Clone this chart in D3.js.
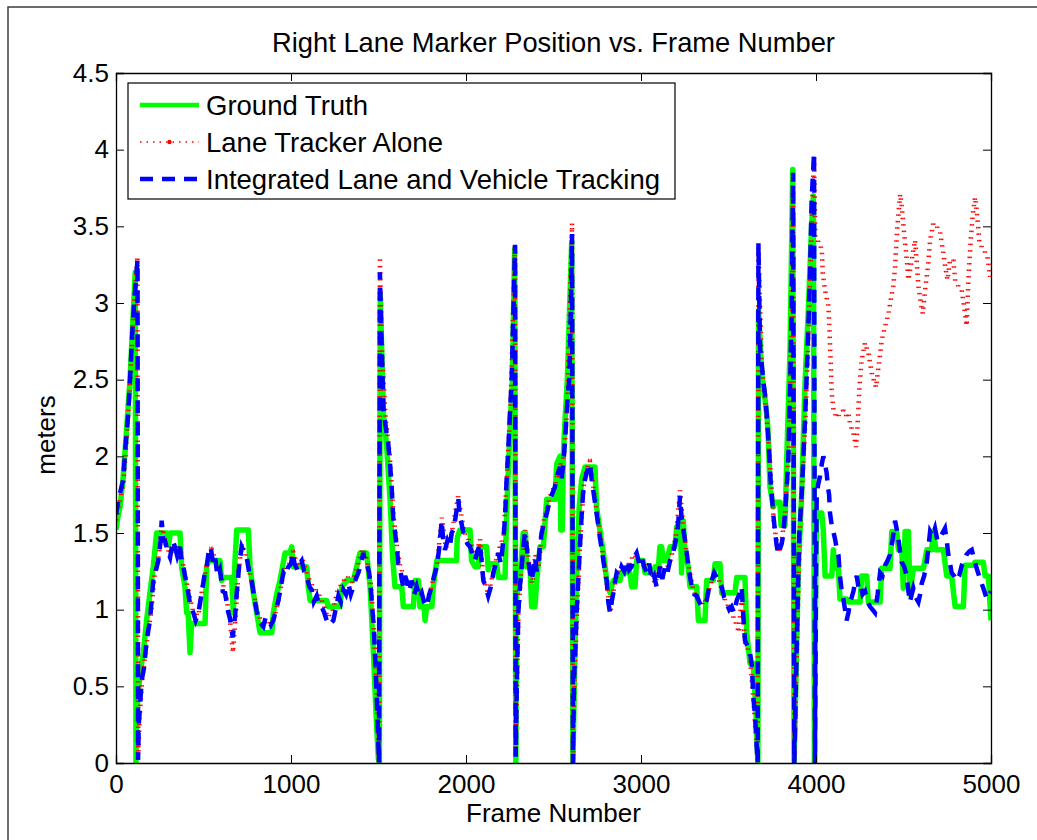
<!DOCTYPE html>
<html lang="en">

<head>
    <meta charset="UTF-8">
    <title>Right Lane Marker Position vs. Frame Number</title>
    <script src="https://d3js.org/d3.v7.min.js"></script>
    <style>
        body { margin: 0; background: #fff; }
        svg text { font-family: "Liberation Sans", Arial, sans-serif; fill: #000; }
    </style>
</head>

<body>
    <svg width="1037" height="840"></svg>

    <script>
        // 数据: [frame, meters]
        const groundTruth = [
            [0,1.52],[10,1.60],[23,1.67],[40,1.85],[51,2.02],[65,2.25],[80,2.50],[95,2.85],[110,3.20],[114,0.0],
            [118,0.32],[137,0.58],[156,0.72],[175,0.93],[194,1.11],[213,1.28],[232,1.50],[290,1.50],[300,1.42],[310,1.50],
            [366,1.50],[375,1.28],[394,1.15],[404,0.98],[412,0.98],[423,0.72],[432,0.91],[509,0.91],[518,1.28],[530,1.32],
            [594,1.32],[604,1.19],[613,1.21],[661,1.21],[670,0.98],[680,1.32],[690,1.52],[756,1.52],[766,1.28],[785,1.11],
            [804,0.98],[823,0.85],[890,0.85],[899,0.98],[918,1.10],[937,1.19],[966,1.37],[994,1.37],[1004,1.41],[1013,1.28],
            [1090,1.28],[1099,1.15],[1109,1.06],[1204,1.06],[1213,1.02],[1280,1.02],[1290,1.15],[1318,1.19],[1356,1.19],[1375,1.28],
            [1394,1.37],[1432,1.37],[1452,1.15],[1471,0.72],[1486,0.32],[1499,0.03],[1505,0.0],[1510,3.06],[1528,2.28],[1547,2.06],
            [1566,1.72],[1581,1.34],[1594,1.15],[1633,1.15],[1642,1.02],[1699,1.02],[1709,1.19],[1728,1.19],[1737,1.02],[1760,1.02],
            [1766,0.93],[1775,1.02],[1805,1.02],[1813,1.15],[1833,1.32],[1946,1.32],[1950,1.47],[1965,1.52],[2023,1.52],[2032,1.32],
            [2051,1.28],[2070,1.28],[2080,1.41],[2118,1.41],[2127,1.26],[2137,1.30],[2175,1.30],[2185,1.21],[2223,1.21],[2232,1.63],
            [2251,2.17],[2265,2.50],[2278,3.35],[2285,0.0],[2289,1.09],[2308,1.19],[2327,1.50],[2340,1.50],[2346,1.28],[2366,1.28],
            [2375,1.02],[2394,1.02],[2404,1.19],[2423,1.41],[2442,1.41],[2461,1.72],[2508,1.72],[2518,1.95],[2537,2.0],[2542,1.52],
            [2550,1.52],[2556,2.0],[2566,2.24],[2579,2.5],[2604,3.4],[2611,0.0],[2623,0.76],[2632,1.19],[2647,1.67],[2661,1.85],
            [2680,1.93],[2737,1.93],[2746,1.67],[2765,1.52],[2785,1.37],[2804,1.19],[2823,1.11],[2842,1.19],[2880,1.19],[2889,1.24],
            [2937,1.24],[2946,1.15],[2966,1.15],[2975,1.32],[3013,1.32],[3023,1.24],[3070,1.24],[3080,1.28],[3100,1.28],[3108,1.41],
            [3118,1.41],[3127,1.32],[3147,1.32],[3166,1.41],[3194,1.41],[3204,1.54],[3225,1.58],[3232,1.24],[3236,1.58],[3242,1.58],
            [3251,1.37],[3270,1.28],[3280,1.15],[3318,1.15],[3328,0.93],[3366,0.93],[3375,1.19],[3413,1.19],[3423,1.30],[3451,1.30],
            [3461,1.11],[3537,1.11],[3547,1.21],[3594,1.21],[3604,0.85],[3623,0.65],[3642,0.65],[3657,0.32],[3668,0.0],[3672,2.95],
            [3690,2.54],[3709,2.37],[3722,2.23],[3728,2.11],[3737,1.80],[3756,1.67],[3766,1.70],[3794,1.70],[3800,1.55],[3823,1.55],
            [3833,1.99],[3852,2.71],[3867,3.87],[3875,0.0],[3899,1.27],[3918,1.75],[3937,2.47],[3956,2.95],[3975,3.5],[3985,3.7],
            [3991,0.0],[4000,1.4],[4004,1.63],[4033,1.63],[4042,1.51],[4052,1.22],[4090,1.22],[4099,1.39],[4109,1.27],[4128,1.27],
            [4137,1.07],[4175,1.07],[4185,1.05],[4252,1.05],[4261,1.22],[4290,1.22],[4299,1.05],[4366,1.05],[4375,1.27],[4423,1.27],
            [4433,1.51],[4461,1.51],[4471,1.39],[4490,1.39],[4499,1.14],[4509,1.51],[4528,1.51],[4537,1.10],[4556,1.27],[4614,1.27],
            [4633,1.39],[4660,1.39],[4671,1.51],[4685,1.39],[4728,1.39],[4747,1.22],[4775,1.22],[4795,1.02],[4842,1.02],[4852,1.29],
            [4899,1.29],[4909,1.31],[4956,1.31],[4966,1.22],[4985,1.22],[5000,0.93]
        ];

        const laneTrackerAlone = [
            [0,1.58],[23,1.72],[42,1.82],[60,2.10],[80,2.48],[100,2.95],[122,3.30],[127,0.05],[135,0.30],[150,0.55],
            [175,0.78],[200,0.98],[220,1.22],[245,1.36],[262,1.55],[285,1.42],[310,1.36],[340,1.43],[370,1.38],[390,1.25],
            [415,1.12],[440,0.99],[470,0.96],[492,1.13],[520,1.30],[545,1.40],[570,1.32],[600,1.22],[630,1.08],[650,0.95],
            [668,0.72],[685,0.98],[700,1.25],[720,1.43],[750,1.32],[780,1.15],[810,0.97],[845,0.90],[880,0.92],[905,0.95],
            [935,1.10],[960,1.26],[990,1.30],[1012,1.38],[1040,1.28],[1065,1.33],[1095,1.22],[1125,1.15],[1150,1.12],[1180,1.05],
            [1210,0.95],[1240,1.00],[1265,1.12],[1290,1.17],[1320,1.22],[1350,1.18],[1380,1.28],[1410,1.40],[1435,1.32],[1458,1.15],
            [1475,0.85],[1492,0.40],[1503,0.0],[1508,3.30],[1520,2.70],[1540,2.25],[1565,2.00],[1585,1.62],[1605,1.42],[1625,1.27],
            [1650,1.22],[1680,1.15],[1710,1.18],[1740,1.10],[1775,1.04],[1805,1.16],[1835,1.30],[1862,1.60],[1885,1.40],[1915,1.48],
            [1955,1.74],[1990,1.50],[2025,1.44],[2055,1.34],[2080,1.46],[2100,1.20],[2128,1.10],[2160,1.27],[2190,1.40],[2215,1.48],
            [2235,1.90],[2255,2.35],[2280,3.38],[2284,0.05],[2300,1.00],[2320,1.30],[2338,1.52],[2360,1.30],[2378,1.17],[2396,1.36],
            [2415,1.28],[2440,1.56],[2480,1.74],[2510,1.82],[2540,1.95],[2560,2.00],[2580,2.35],[2606,3.52],[2611,0.02],[2620,0.55],
            [2635,1.00],[2652,1.43],[2672,1.80],[2690,1.92],[2708,1.97],[2728,1.80],[2750,1.62],[2770,1.45],[2790,1.30],[2810,1.12],
            [2825,0.98],[2845,1.14],[2870,1.25],[2900,1.27],[2930,1.30],[2960,1.36],[2990,1.32],[3020,1.30],[3050,1.27],[3080,1.17],
            [3110,1.28],[3140,1.25],[3170,1.33],[3200,1.48],[3223,1.78],[3245,1.50],[3270,1.30],[3300,1.12],[3330,1.06],[3360,1.03],
            [3390,1.14],[3420,1.24],[3450,1.18],[3480,1.06],[3510,1.00],[3540,0.92],[3560,0.85],[3575,1.10],[3595,0.78],[3620,0.72],
            [3640,0.45],[3660,0.12],[3667,0.02],[3671,3.36],[3690,2.60],[3715,2.30],[3735,2.00],[3760,1.55],[3785,1.38],[3805,1.45],
            [3825,1.65],[3845,2.05],[3862,2.95],[3869,3.82],[3876,0.02],[3892,0.80],[3907,1.50],[3920,1.78],[3940,2.25],[3960,2.90],
            [3978,3.65],[3989,3.95],[3996,3.42],[4014,3.40],[4033,3.35],[4039,3.19],[4052,3.08],[4071,2.98],[4077,2.82],[4084,2.61],
            [4090,2.41],[4100,2.30],[4119,2.25],[4138,2.28],[4157,2.30],[4175,2.26],[4185,2.28],[4195,2.21],[4214,2.15],[4229,2.06],
            [4237,2.19],[4248,2.45],[4261,2.63],[4280,2.74],[4300,2.67],[4319,2.54],[4343,2.45],[4357,2.58],[4376,2.76],[4395,2.85],
            [4414,2.93],[4427,3.02],[4442,3.11],[4452,3.24],[4465,3.50],[4481,3.71],[4490,3.63],[4503,3.46],[4519,3.28],[4528,3.15],
            [4547,3.28],[4566,3.41],[4576,3.26],[4585,3.11],[4599,3.00],[4610,2.93],[4623,3.08],[4642,3.26],[4652,3.41],[4671,3.52],
            [4690,3.50],[4709,3.46],[4724,3.35],[4738,3.24],[4751,3.15],[4766,3.28],[4785,3.28],[4795,3.15],[4814,3.11],[4833,3.08],
            [4846,2.98],[4861,2.85],[4871,3.15],[4884,3.41],[4896,3.58],[4909,3.69],[4922,3.56],[4934,3.39],[4957,3.35],[4980,3.30],
            [4995,3.17],[5000,3.20]
        ];

        const integrated = [
            [0,1.62],[12,1.70],[23,1.76],[42,1.85],[51,2.02],[70,2.28],[80,2.5],[95,2.85],[110,3.1],[123,3.28],
            [126,0.02],[130,0.25],[147,0.54],[160,0.62],[175,0.80],[194,0.93],[213,1.19],[242,1.32],[255,1.45],[261,1.58],
            [270,1.45],[280,1.45],[295,1.38],[309,1.34],[325,1.45],[337,1.41],[350,1.35],[366,1.41],[375,1.30],[385,1.28],
            [400,1.18],[413,1.11],[425,1.02],[442,0.98],[455,0.93],[471,0.98],[490,1.11],[505,1.22],[518,1.28],[530,1.38],
            [541,1.41],[555,1.30],[566,1.34],[580,1.22],[594,1.26],[610,1.12],[623,1.11],[642,0.98],[650,0.95],[667,0.82],
            [680,0.95],[690,1.11],[705,1.30],[718,1.41],[730,1.38],[747,1.34],[760,1.25],[775,1.19],[790,1.08],[804,0.99],
            [820,0.92],[842,0.89],[855,0.95],[871,0.93],[885,0.90],[899,0.93],[915,1.00],[928,1.06],[942,1.15],[956,1.24],
            [970,1.22],[985,1.28],[1000,1.30],[1010,1.37],[1020,1.30],[1036,1.26],[1048,1.30],[1061,1.32],[1075,1.25],[1090,1.22],
            [1105,1.15],[1118,1.13],[1130,1.05],[1147,1.09],[1160,1.03],[1175,1.02],[1190,0.98],[1204,0.93],[1220,0.90],[1242,0.93],
            [1255,1.00],[1271,1.09],[1285,1.05],[1299,1.13],[1314,1.10],[1328,1.17],[1342,1.10],[1356,1.15],[1370,1.20],[1385,1.24],
            [1400,1.30],[1413,1.37],[1425,1.30],[1432,1.30],[1445,1.25],[1455,1.15],[1465,1.00],[1474,0.87],[1482,0.65],[1490,0.43],
            [1497,0.2],[1503,0.0],[1508,3.20],[1515,2.85],[1528,2.32],[1540,2.20],[1556,2.08],[1566,1.95],[1575,1.80],[1585,1.58],
            [1595,1.50],[1604,1.41],[1613,1.30],[1623,1.28],[1632,1.20],[1642,1.15],[1652,1.22],[1661,1.19],[1675,1.12],[1690,1.19],
            [1704,1.10],[1718,1.15],[1732,1.08],[1747,1.11],[1760,1.05],[1775,1.02],[1790,1.10],[1804,1.15],[1818,1.22],[1833,1.28],
            [1847,1.40],[1861,1.58],[1870,1.45],[1880,1.39],[1894,1.45],[1908,1.41],[1918,1.50],[1927,1.52],[1940,1.60],[1956,1.72],
            [1965,1.60],[1975,1.56],[1985,1.50],[1994,1.47],[2008,1.43],[2023,1.41],[2037,1.36],[2051,1.32],[2065,1.38],[2080,1.43],
            [2090,1.30],[2099,1.19],[2113,1.15],[2127,1.09],[2142,1.15],[2156,1.24],[2170,1.30],[2185,1.37],[2199,1.30],[2213,1.45],
            [2223,1.60],[2232,1.85],[2242,2.05],[2251,2.28],[2261,2.50],[2270,2.9],[2280,3.38],[2284,0.04],[2290,0.5],[2299,0.98],
            [2308,1.15],[2318,1.28],[2327,1.40],[2337,1.50],[2346,1.42],[2356,1.32],[2365,1.25],[2375,1.19],[2385,1.26],[2394,1.34],
            [2404,1.25],[2413,1.30],[2423,1.42],[2432,1.50],[2442,1.55],[2451,1.58],[2466,1.65],[2480,1.72],[2494,1.76],[2508,1.80],
            [2522,1.88],[2537,1.93],[2546,1.85],[2556,1.95],[2566,2.1],[2575,2.28],[2582,2.4],[2590,2.50],[2598,2.9],[2606,3.45],
            [2611,0.0],[2617,0.54],[2625,0.75],[2632,0.98],[2642,1.2],[2651,1.41],[2660,1.6],[2670,1.78],[2680,1.85],[2689,1.89],
            [2699,1.93],[2708,1.95],[2718,1.85],[2727,1.78],[2737,1.70],[2746,1.63],[2756,1.55],[2765,1.47],[2775,1.40],[2785,1.32],
            [2794,1.25],[2804,1.19],[2813,1.05],[2823,0.98],[2832,1.05],[2842,1.11],[2851,1.18],[2861,1.24],[2875,1.22],[2889,1.28],
            [2904,1.25],[2918,1.32],[2932,1.26],[2946,1.28],[2960,1.34],[2975,1.37],[2990,1.30],[3004,1.34],[3018,1.28],[3032,1.24],
            [3047,1.30],[3061,1.19],[3075,1.22],[3089,1.15],[3100,1.22],[3108,1.28],[3122,1.20],[3137,1.28],[3151,1.24],[3166,1.32],
            [3180,1.35],[3194,1.43],[3208,1.50],[3218,1.65],[3223,1.74],[3232,1.60],[3242,1.52],[3252,1.45],[3261,1.37],[3275,1.25],
            [3290,1.15],[3304,1.10],[3318,1.09],[3333,1.05],[3347,1.02],[3361,1.04],[3375,1.06],[3390,1.15],[3404,1.19],[3418,1.24],
            [3432,1.21],[3447,1.18],[3461,1.15],[3475,1.08],[3490,1.04],[3504,1.00],[3518,1.02],[3532,0.98],[3547,1.06],[3561,1.10],
            [3575,1.15],[3585,0.95],[3594,0.80],[3610,0.76],[3623,0.72],[3633,0.64],[3642,0.43],[3652,0.30],[3661,0.11],[3667,0.0],
            [3671,3.39],[3680,2.71],[3690,2.60],[3699,2.49],[3709,2.40],[3718,2.28],[3726,2.15],[3734,1.99],[3740,1.85],[3747,1.75],
            [3756,1.62],[3766,1.51],[3775,1.42],[3785,1.36],[3795,1.40],[3804,1.43],[3814,1.50],[3823,1.63],[3833,1.80],[3842,1.99],
            [3852,2.45],[3861,2.95],[3869,3.85],[3876,0.0],[3890,0.78],[3898,1.2],[3905,1.51],[3918,1.75],[3928,2.0],[3937,2.23],
            [3946,2.5],[3956,2.83],[3966,3.2],[3975,3.67],[3989,3.98],[3994,0.0],[4000,1.2],[4004,1.75],[4013,1.82],[4023,1.87],
            [4033,1.95],[4042,2.0],[4052,1.95],[4061,1.89],[4068,1.80],[4075,1.75],[4080,1.63],[4090,1.55],[4099,1.51],[4109,1.46],
            [4118,1.40],[4128,1.36],[4137,1.22],[4147,1.12],[4156,1.07],[4166,1.00],[4175,0.93],[4185,0.98],[4195,1.05],[4204,1.08],
            [4214,1.12],[4223,1.18],[4233,1.22],[4242,1.15],[4252,1.17],[4266,1.10],[4280,1.12],[4295,1.05],[4309,1.02],[4323,1.00],
            [4337,0.98],[4352,1.10],[4366,1.24],[4380,1.22],[4395,1.29],[4409,1.32],[4423,1.36],[4437,1.45],[4452,1.58],[4462,1.52],
            [4471,1.46],[4480,1.38],[4490,1.31],[4504,1.28],[4518,1.22],[4528,1.12],[4537,1.05],[4547,1.10],[4556,1.14],[4570,1.08],
            [4585,1.05],[4595,1.10],[4604,1.17],[4618,1.22],[4633,1.31],[4642,1.40],[4652,1.51],[4666,1.48],[4680,1.53],[4694,1.45],
            [4709,1.46],[4723,1.50],[4737,1.53],[4747,1.45],[4756,1.36],[4766,1.30],[4775,1.24],[4790,1.22],[4804,1.19],[4818,1.22],
            [4833,1.29],[4847,1.32],[4861,1.36],[4876,1.38],[4890,1.39],[4904,1.33],[4918,1.27],[4932,1.22],[4947,1.17],[4962,1.12],
            [4976,1.07],[4990,1.10],[5000,1.12]
        ];

        const xTicks = [0, 1000, 2000, 3000, 4000, 5000];
        const yTicks = [0, 0.5, 1, 1.5, 2, 2.5, 3, 3.5, 4, 4.5];
        const legendLabels = ["Ground Truth", "Lane Tracker Alone", "Integrated Lane and Vehicle Tracking"];

        const svg = d3.select("svg");

        // 坐标区
        const plot = { left: 116, right: 991, top: 73, bottom: 763 };
        const x = d3.scaleLinear().domain([0, 5000]).range([plot.left, plot.right]);
        const y = d3.scaleLinear().domain([0, 4.5]).range([plot.bottom, plot.top]);

        // 外框
        svg.append("path")
            .attr("d", "M8,845 L8,7 L1045,7")
            .attr("fill", "none")
            .attr("stroke", "#3c3c3c")
            .attr("stroke-width", 1.5);

        svg.append("text")
            .attr("x", (plot.left + plot.right) / 2)
            .attr("y", 52)
            .attr("text-anchor", "middle")
            .attr("font-size", "27.3px")
            .text("Right Lane Marker Position vs. Frame Number");

        svg.append("defs").append("clipPath").attr("id", "clip")
            .append("rect")
            .attr("x", plot.left).attr("y", plot.top)
            .attr("width", plot.right - plot.left).attr("height", plot.bottom - plot.top);

        const line = d3.line().x(d => x(d[0])).y(d => y(d[1]));
        const g = svg.append("g").attr("clip-path", "url(#clip)");

        g.append("path")
            .datum(groundTruth)
            .attr("d", line)
            .attr("fill", "none")
            .attr("stroke", "#00ff00")
            .attr("stroke-width", 5.5)
            .attr("stroke-linejoin", "round");

        // 红色点线，画三次稍微偏移，模拟 MATLAB 的点标记
        [-1.5, 0, 1.5].forEach(dx => {
            g.append("path")
                .datum(laneTrackerAlone)
                .attr("d", line)
                .attr("transform", `translate(${dx},0)`)
                .attr("fill", "none")
                .attr("stroke", "#ff0000")
                .attr("stroke-width", 1.5)
                .attr("stroke-dasharray", "1.5,5");
        });

        g.append("path")
            .datum(integrated)
            .attr("d", line)
            .attr("fill", "none")
            .attr("stroke", "#0000ff")
            .attr("stroke-width", 4.5)
            .attr("stroke-dasharray", "13,9");

        // 坐标轴
        const axisBottom = d3.axisBottom(x).tickValues(xTicks).tickSize(-8).tickPadding(12).tickFormat(d3.format("d"));
        const axisTop = d3.axisTop(x).tickValues(xTicks).tickSize(-8).tickFormat("");
        const axisLeft = d3.axisLeft(y).tickValues(yTicks).tickSize(-8).tickPadding(7).tickFormat(d => d);
        const axisRight = d3.axisRight(y).tickValues(yTicks).tickSize(-8).tickFormat("");

        const gx = svg.append("g").attr("transform", `translate(0,${plot.bottom})`).call(axisBottom);
        svg.append("g").attr("transform", `translate(0,${plot.top})`).call(axisTop);
        const gy = svg.append("g").attr("transform", `translate(${plot.left},0)`).call(axisLeft);
        svg.append("g").attr("transform", `translate(${plot.right},0)`).call(axisRight);

        svg.selectAll(".domain").attr("stroke", "#000").attr("stroke-width", 1.3);
        svg.selectAll(".tick line").attr("stroke", "#000").attr("stroke-width", 1);
        svg.selectAll(".tick text")
            .attr("font-size", "26px")
            .attr("font-family", "'Liberation Sans', Arial, sans-serif")
            .attr("fill", "#000");
        gx.selectAll(".tick text").attr("dy", "0.71em");

        svg.append("text")
            .attr("x", (plot.left + plot.right) / 2)
            .attr("y", 822)
            .attr("text-anchor", "middle")
            .attr("font-size", "26px")
            .text("Frame Number");

        svg.append("text")
            .attr("transform", "translate(55,435) rotate(-90)")
            .attr("text-anchor", "middle")
            .attr("font-size", "26px")
            .text("meters");

        // 图例
        const legend = svg.append("g");
        legend.append("rect")
            .attr("x", 128).attr("y", 83)
            .attr("width", 547).attr("height", 116)
            .attr("fill", "#fff")
            .attr("stroke", "#000")
            .attr("stroke-width", 1.2);

        const rowY = [105, 142, 179];
        const styles = [
            { color: "#00ff00", width: 4.5, dash: null },
            { color: "#ff0000", width: 1.5, dash: "1.5,5" },
            { color: "#0000ff", width: 4.5, dash: "13,9" }
        ];
        legendLabels.forEach((label, i) => {
            legend.append("line")
                .attr("x1", 140).attr("x2", 199)
                .attr("y1", rowY[i]).attr("y2", rowY[i])
                .attr("stroke", styles[i].color)
                .attr("stroke-width", styles[i].width)
                .attr("stroke-dasharray", styles[i].dash);
            legend.append("text")
                .attr("x", 206)
                .attr("y", rowY[i] + 10)
                .attr("font-size", "27.5px")
                .text(label);
        });
        legend.append("circle")
            .attr("cx", 169.5).attr("cy", rowY[1])
            .attr("r", 2.2)
            .attr("fill", "#ff0000");
    </script>


</body>

</html>
